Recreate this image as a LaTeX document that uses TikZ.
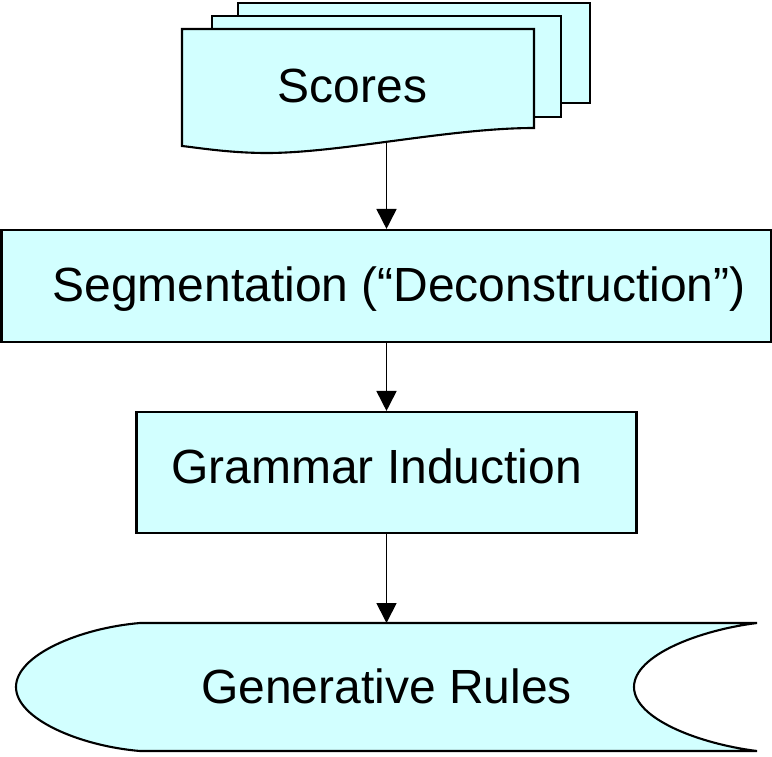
\documentclass[tikz,border=0pt]{standalone}
\usepackage{fontspec}
\setmainfont{Liberation Sans}
\usetikzlibrary{arrows.meta}
\definecolor{boxfill}{RGB}{210,255,255}

\begin{document}
\begin{tikzpicture}[x=0.2mm,y=-0.2mm,>={Triangle[length=4mm,width=4mm]},
  flow/.style={rectangle,draw,line width=1.2pt,fill=boxfill,inner sep=0pt},
  doc/.style={draw,line width=1.2pt,fill=boxfill},
  lbl/.style={anchor=base,inner sep=0pt,font=\fontsize{27.3}{32}\selectfont}]
  \useasboundingbox (0,0) rectangle (772,756);
  % stacked score sheets
  \draw[doc] (238,3) rectangle (590,103);
  \draw[doc] (212,16) rectangle (561,117);
  \draw[doc] (182,29) -- (534,29) -- (534,128)
    .. controls (450,128) and (340,153) .. (267,153)
    .. controls (230,153) and (200,148) .. (182,146) -- cycle;
  \node[lbl] (scores) at (352.5,103) {Scores};
  \coordinate (scoresbot) at (386.5,142);
  \node[flow,minimum width=15.4cm,minimum height=2.24cm] (seg) at (386.5,286) {};
  \node[lbl] (segtext) at (399,301.5) {Segmentation (“Deconstruction”)};
  \node[flow,minimum width=10cm,minimum height=2.42cm] (gram) at (386.5,472.5) {};
  \node[lbl] (gramtext) at (376.5,483) {Grammar Induction};
  % stored rules
  \draw[doc] (140,623) -- (757,623)
    .. controls (700,630) and (634,655) .. (634,687)
    .. controls (634,719) and (700,744) .. (757,751) -- (140,751)
    .. controls (80,746) and (16,719) .. (16,687)
    .. controls (16,655) and (80,628) .. (140,623) -- cycle;
  \node[lbl] (rules) at (386.5,703) {Generative Rules};
  \coordinate (rulestop) at (386.5,623);
  \draw[->,line width=1pt] (scoresbot) -- (scoresbot |- seg.north);
  \draw[->,line width=1pt] (seg) -- (gram);
  \draw[->,line width=1pt] (gram) -- (rulestop);
\end{tikzpicture}
\end{document}
